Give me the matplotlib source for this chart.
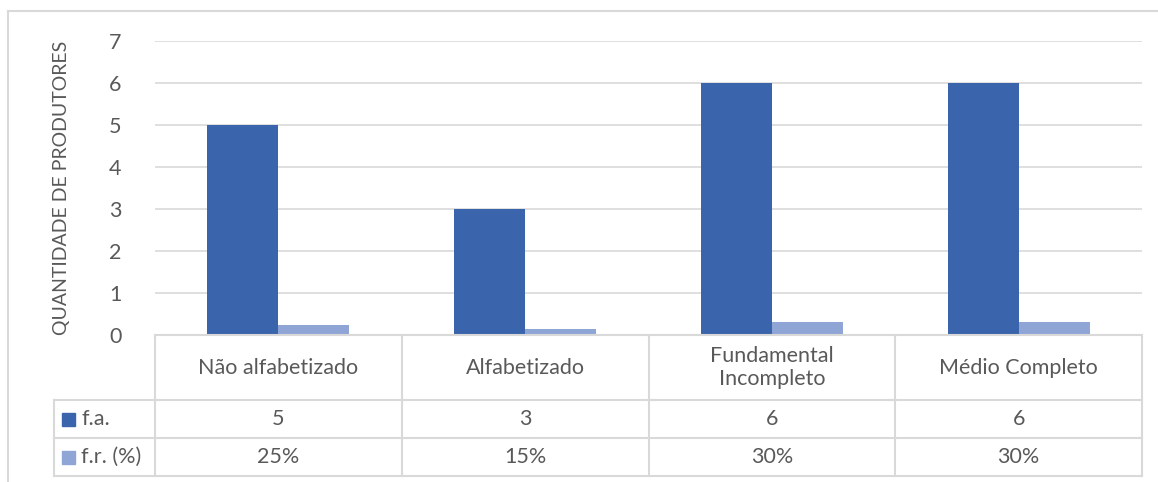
import matplotlib.pyplot as plt
from matplotlib.lines import Line2D
from matplotlib.patches import Rectangle
import numpy as np

# Dados da escolaridade dos produtores
categorias = ['Não alfabetizado', 'Alfabetizado', 'Fundamental\nIncompleto', 'Médio Completo']
freq_abs = [5, 3, 6, 6]
freq_rel = [0.25, 0.15, 0.30, 0.30]
rotulos_fa = ['5', '3', '6', '6']
rotulos_fr = ['25%', '15%', '30%', '30%']
series = ['f.a.', 'f.r. (%)']

cor_fa = '#3A64AB'
cor_fr = '#8FA5D6'
cinza = '#595959'
linha = '#D9D9D9'
fs = 15.5

plt.rcParams['font.family'] = ['Lato', 'DejaVu Sans']

W, H = 1158, 482
fig = plt.figure(figsize=(W / 100, H / 100), dpi=100)

# área do gráfico em pixels
x0, x1 = 155, 1142
y_top, y_bot = 41, 335
ax = fig.add_axes([x0 / W, (H - y_bot) / H, (x1 - x0) / W, (y_bot - y_top) / H])

x = np.arange(len(categorias))
larg = 0.288
ax.bar(x - larg / 2, freq_abs, larg, color=cor_fa, zorder=3)
ax.bar(x + larg / 2, freq_rel, larg, color=cor_fr, zorder=3)

ax.set_xlim(-0.5, len(categorias) - 0.5)
ax.set_ylim(0, 7)
ax.set_yticks(range(8))
ax.set_xticks([])
ax.grid(axis='y', color=linha, linewidth=1.2, zorder=0)
for s in ax.spines.values():
    s.set_visible(False)
ax.tick_params(axis='y', length=0, labelsize=fs, labelcolor=cinza, pad=24)
ax.set_ylabel('QUANTIDADE DE PRODUTORES', fontsize=fs - 1.5, color=cinza, labelpad=28)

# moldura externa do gráfico
def px_line(xs, ys, **kw):
    fig.add_artist(Line2D([v / W for v in xs], [1 - v / H for v in ys],
                          transform=fig.transFigure, **kw))

px_line([8, 8], [11, H], color=linha, linewidth=1.5)
px_line([8, W], [11, 11], color=linha, linewidth=1.5)

# tabela de dados abaixo do eixo
col_w = (x1 - x0) / len(categorias)
cols = [x0 + i * col_w for i in range(len(categorias) + 1)]
r_head, r1, r2, r3 = 335, 400, 438, 476
lk = dict(color=linha, linewidth=1.5)
for c in cols:
    px_line([c, c], [r_head, r3], **lk)
px_line([54, 54], [r1, r3], **lk)
px_line([54, x1], [r1, r1], **lk)
px_line([54, x1], [r2, r2], **lk)
px_line([54, x1], [r3, r3], **lk)
px_line([x0, x1], [r_head, r_head], **lk)

def px_text(xp, yp, s, **kw):
    fig.text(xp / W, 1 - yp / H, s, color=cinza, fontsize=fs, **kw)

for i, cat in enumerate(categorias):
    cx = cols[i] + col_w / 2
    px_text(cx, (r_head + r1) / 2, cat, ha='center', va='center', linespacing=1.2)
    px_text(cx, (r1 + r2) / 2, rotulos_fa[i], ha='center', va='center')
    px_text(cx, (r2 + r3) / 2, rotulos_fr[i], ha='center', va='center')

# chaves da legenda na primeira coluna
for nome, cor, (ya, yb) in zip(series, [cor_fa, cor_fr], [(r1, r2), (r2, r3)]):
    ym = (ya + yb) / 2
    fig.add_artist(Rectangle((62 / W, 1 - (ym + 6.5) / H), 13 / W, 13 / H,
                             transform=fig.transFigure, color=cor))
    px_text(81, ym, nome, ha='left', va='center')

fig.savefig('out.png', dpi=100)
